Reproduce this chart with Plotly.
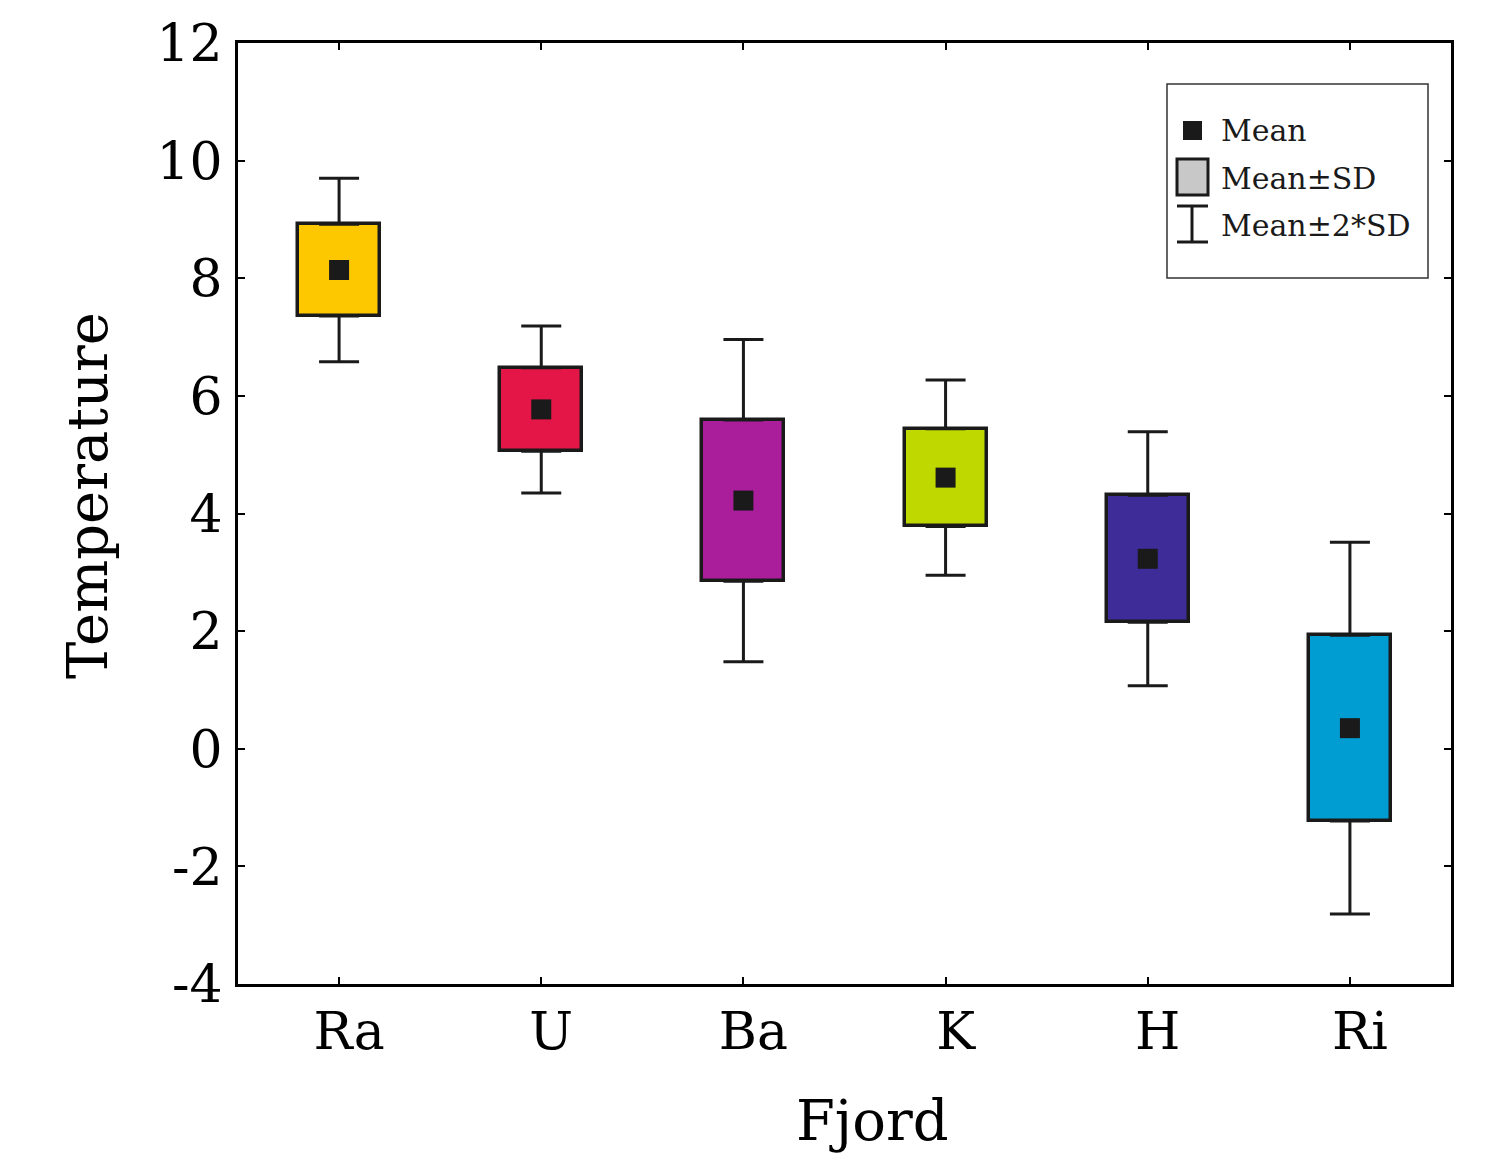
import plotly.graph_objects as go

# Fjord temperature summary: mean and standard deviation per fjord
fjords = ["Ra", "U", "Ba", "K", "H", "Ri"]
mean_temp = [8.14, 5.77, 4.22, 4.61, 3.23, 0.35]
sd_temp = [0.78, 0.71, 1.37, 0.83, 1.08, 1.58]
box_colors = ["#FDC800", "#E31647", "#AA1E9C", "#BED800", "#3E2C98", "#009DD2"]

y_ticks = [-4, -2, 0, 2, 4, 6, 8, 10, 12]

FONT = "DejaVu Serif"
INK = "#1a1a1a"

box_low = [m - s for m, s in zip(mean_temp, sd_temp)]
box_span = [2 * s for s in sd_temp]
box_high = [m + s for m, s in zip(mean_temp, sd_temp)]

fig = go.Figure()

# Mean ± SD boxes
fig.add_trace(go.Bar(
    x=fjords, y=box_span, base=box_low, width=0.405,
    marker=dict(color=box_colors, line=dict(color=INK, width=3.5)),
    showlegend=False, hoverinfo="skip",
))

# Upper whiskers (box top to mean + 2 SD)
fig.add_trace(go.Scatter(
    x=fjords, y=box_high, mode="markers",
    marker=dict(size=1, color="rgba(0,0,0,0)"),
    error_y=dict(type="data", symmetric=False, array=sd_temp,
                 arrayminus=[0] * len(sd_temp), color=INK, thickness=3, width=20),
    showlegend=False, hoverinfo="skip",
))
# Lower whiskers (box bottom to mean - 2 SD)
fig.add_trace(go.Scatter(
    x=fjords, y=box_low, mode="markers",
    marker=dict(size=1, color="rgba(0,0,0,0)"),
    error_y=dict(type="data", symmetric=False, array=[0] * len(sd_temp),
                 arrayminus=sd_temp, color=INK, thickness=3, width=20),
    showlegend=False, hoverinfo="skip",
))

# Means
fig.add_trace(go.Scatter(
    x=fjords, y=mean_temp, mode="markers",
    marker=dict(symbol="square", size=20, color=INK, line=dict(width=0)),
    showlegend=False, hoverinfo="skip",
))

axis_common = dict(
    showline=True, linecolor="black", linewidth=3, mirror="ticks",
    ticks="inside", ticklen=7, tickwidth=2, tickcolor="black",
    showgrid=False, zeroline=False,
    tickfont=dict(family=FONT, size=52, color="black"),
)

fig.update_xaxes(range=[-0.5, 5.5], ticklabelshift=10, ticklabelstandoff=0,
                 **axis_common)
fig.update_yaxes(range=[-4, 12], tickvals=y_ticks, ticktext=[str(v) for v in y_ticks],
                 ticklabelstandoff=2, **axis_common)

# Axis titles
fig.add_annotation(text="Fjord", xref="paper", yref="paper",
                   x=(872 - 238) / 1213, y=-(1120 - 984) / 941,
                   showarrow=False, font=dict(family=FONT, size=56, color="black"),
                   xanchor="center", yanchor="middle")
fig.add_annotation(text="Temperature", xref="paper", yref="paper",
                   x=-(238 - 88) / 1213, y=(984 - 496) / 941, textangle=-90,
                   showarrow=False, font=dict(family=FONT, size=56, color="black"),
                   xanchor="center", yanchor="middle")

# Legend key box
def px(xp):
    return (xp - 238) / 1213


def py(yp):
    return (984 - yp) / 941


shapes = [
    dict(type="rect", xref="paper", yref="paper", x0=px(1167), x1=px(1428),
         y0=py(278), y1=py(84), line=dict(color="#333333", width=1.5),
         fillcolor="white"),
    dict(type="rect", xref="paper", yref="paper", x0=px(1183), x1=px(1202),
         y0=py(140), y1=py(121), line=dict(width=0), fillcolor=INK),
    dict(type="rect", xref="paper", yref="paper", x0=px(1177), x1=px(1208),
         y0=py(195), y1=py(159), line=dict(color=INK, width=3),
         fillcolor="#C8C8C8"),
    dict(type="line", xref="paper", yref="paper", x0=px(1192), x1=px(1192),
         y0=py(242), y1=py(206), line=dict(color=INK, width=3)),
    dict(type="line", xref="paper", yref="paper", x0=px(1177), x1=px(1208),
         y0=py(206), y1=py(206), line=dict(color=INK, width=3)),
    dict(type="line", xref="paper", yref="paper", x0=px(1177), x1=px(1208),
         y0=py(242), y1=py(242), line=dict(color=INK, width=3)),
]
for s in shapes:
    fig.add_shape(**s)

for label, yc in [("Mean", 130), ("Mean±SD", 178), ("Mean±2*SD", 225)]:
    fig.add_annotation(text=label, xref="paper", yref="paper",
                       x=px(1219), y=py(yc), showarrow=False,
                       xanchor="left", yanchor="middle",
                       font=dict(family=FONT, size=30, color=INK))

fig.update_layout(
    width=1485, height=1161,
    margin=dict(l=238, r=34, t=43, b=177),
    paper_bgcolor="white", plot_bgcolor="white",
    bargap=0, showlegend=False,
)

fig.write_html("out.html")
